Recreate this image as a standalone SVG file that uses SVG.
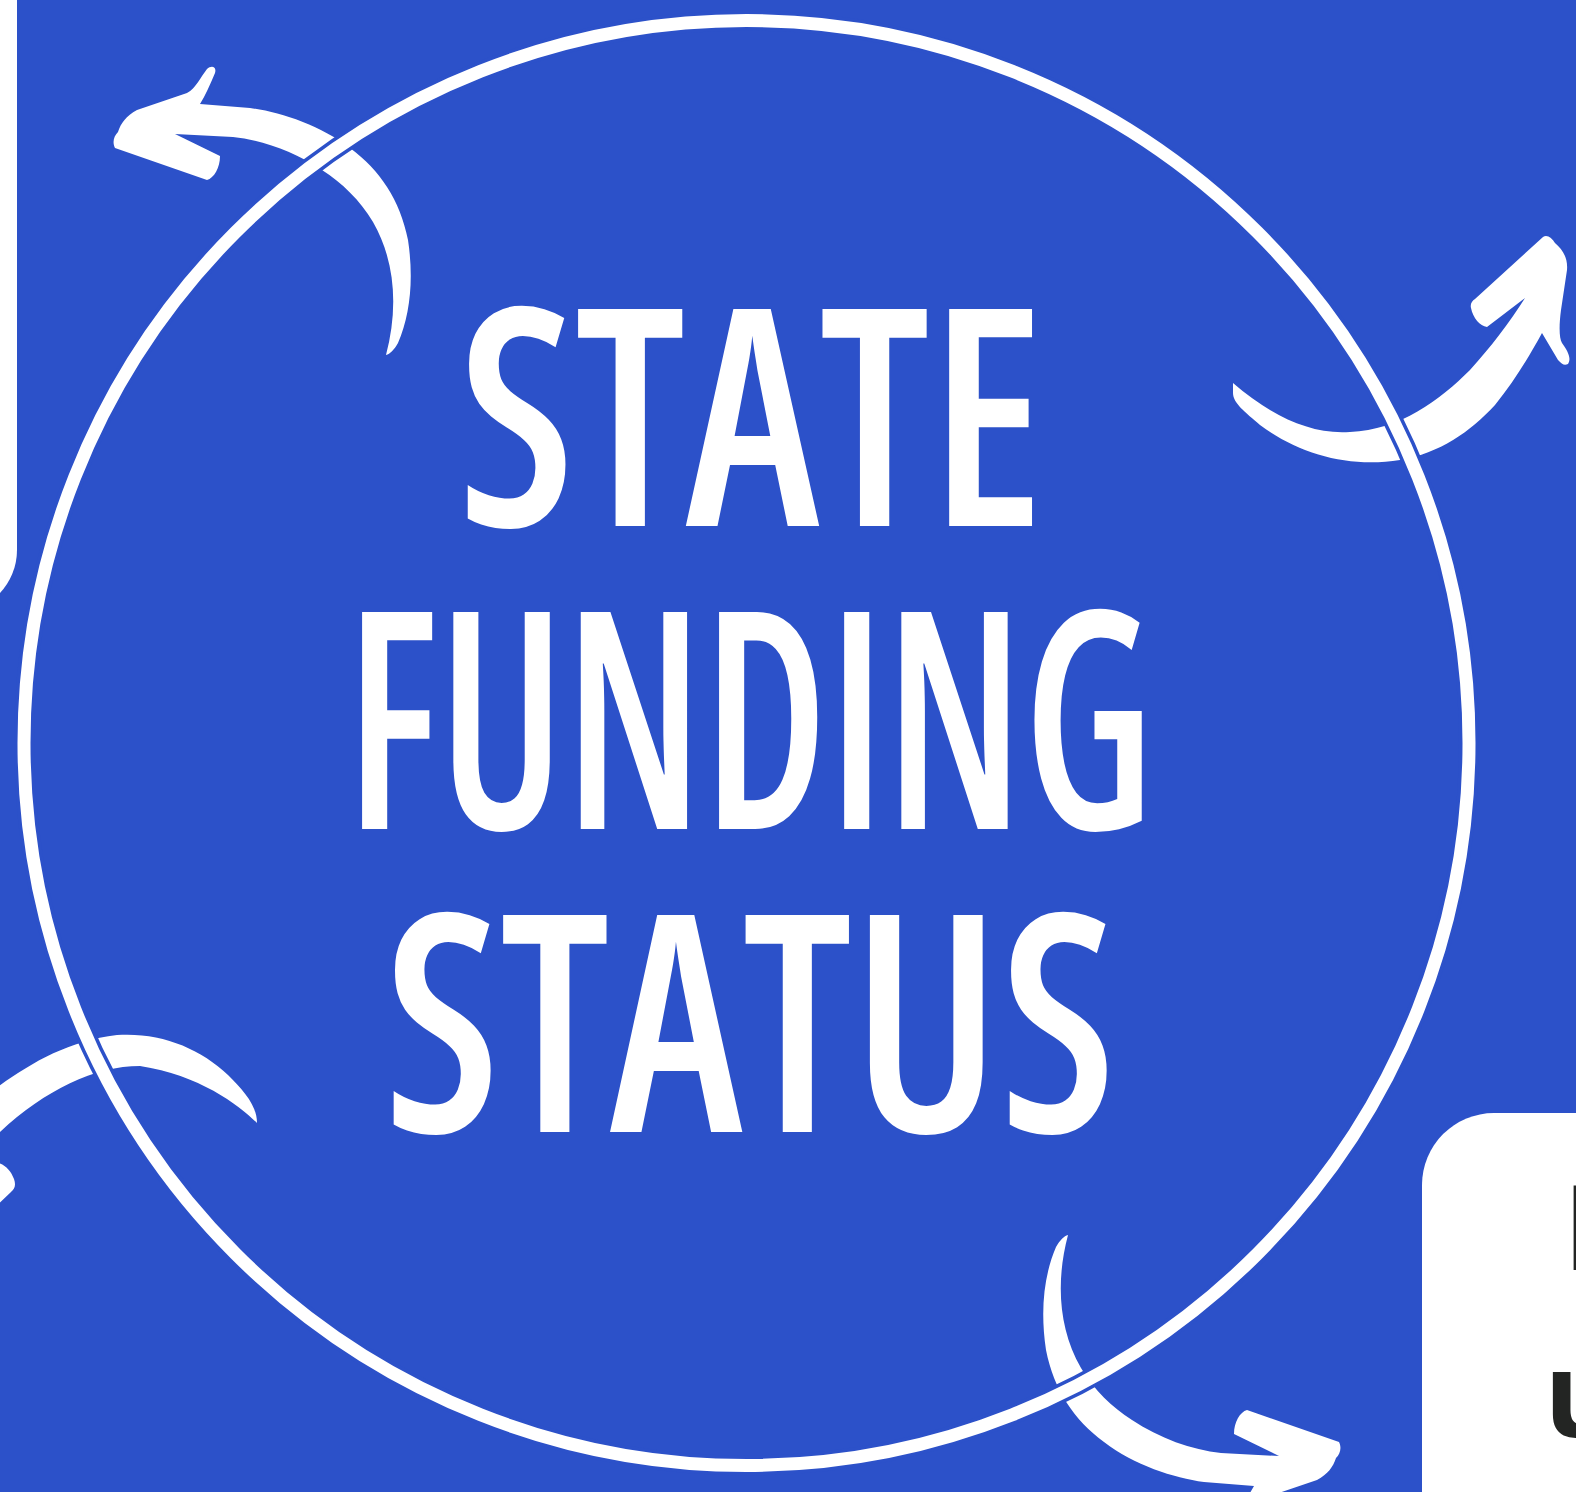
<svg xmlns="http://www.w3.org/2000/svg" width="1576" height="1492" viewBox="0 0 1576 1492">
  <defs>
    <style>
      .bg { fill: #2C51C9; }
      .panel { fill: #FFFFFF; }
      .title { fill: #FFFFFF; font-family: "Open Sans", "Liberation Sans", sans-serif; font-stretch: 75%; font-weight: 600; font-size: 304px; }
      .boxtext { fill: #232523; font-family: "Open Sans", "Liberation Sans", sans-serif; font-weight: 700; font-size: 118px; }
      .arrow { fill: #FFFFFF; }
      .ring-halo { fill: none; stroke: #2C51C9; stroke-width: 20; }
      .ring { fill: none; stroke: #FFFFFF; stroke-width: 13; }
    </style>
    <path id="arrowA" d="M 386 355 C 398 310, 396 262, 373 222 C 360 200, 342 183, 322 170 C 295 152, 262 140, 233 137 L 175 134 L 220 156 C 220 168, 214 178, 207 180 L 115 148 C 112 142, 114 136, 118 132 C 121 123, 126 116, 137 110 L 187 93 C 196 88, 200 78, 207 69 C 211 65, 217 66, 215 73 C 210 85, 205 96, 200 104 L 250 108 C 280 112, 320 125, 350 148 C 380 170, 400 200, 408 240 C 414 280, 410 315, 398 343 C 394 350, 390 354, 386 355 Z"/>
    <path id="arrowB" d="M 1233 383 C 1270 415, 1310 435, 1350 432 C 1400 430, 1440 400, 1470 370 C 1490 348, 1510 322, 1525 298 L 1487 327 C 1480 326, 1473 318, 1471 308 C 1470 304, 1472 301, 1475 299 L 1543 237 C 1547 234, 1552 238, 1555 243 C 1563 250, 1568 258, 1567 270 L 1561 310 C 1559 325, 1559 338, 1562 343 C 1567 350, 1572 358, 1568 364 C 1564 366, 1562 364, 1558 360 L 1542 333 C 1530 355, 1515 380, 1495 405 C 1470 432, 1440 453, 1400 460 C 1350 468, 1300 455, 1260 425 C 1245 412, 1233 403, 1233 393 Z"/>
  </defs>

  <rect class="bg" x="0" y="0" width="1576" height="1492"/>

  <g id="left-panel">
    <rect class="panel" x="-200" y="-100" width="217" height="713" rx="63"/>
  </g>

  <g id="info-box">
    <rect class="panel" x="1422" y="1113" width="300" height="500" rx="72"/>
    <text class="boxtext" x="1563" y="1270">L</text>
    <text class="boxtext" x="1544" y="1437">u</text>
  </g>

  <g id="connectors">
    <use class="arrow" href="#arrowA"/>
    <use class="arrow" href="#arrowB"/>
    <path class="arrow" d="M -20 1100 C 20 1070, 60 1042, 117 1035 C 160 1032, 200 1048, 228 1075 C 243 1090, 257 1105, 257 1123 C 240 1106, 200 1075, 140 1066 C 95 1066, 45 1090, 0 1132 L -20 1150 Z M -10 1162 C 1 1161, 10 1168, 14 1179 C 16 1185, 15 1189, 11 1192 L -10 1212 Z"/>
    <use class="arrow" href="#arrowA" transform="rotate(180 727 795)"/>
  </g>

  <g id="ring">
    <circle class="ring-halo" cx="746.5" cy="743" r="722.5"/>
    <circle class="ring" cx="746.5" cy="743" r="722.5"/>
  </g>

  <g id="title">
    <text class="title" x="458" y="526" textLength="586" lengthAdjust="spacingAndGlyphs">STATE</text>
    <text class="title" x="346" y="829" textLength="808" lengthAdjust="spacingAndGlyphs">FUNDING</text>
    <text class="title" x="384" y="1132" textLength="732" lengthAdjust="spacingAndGlyphs">STATUS</text>
  </g>
</svg>
